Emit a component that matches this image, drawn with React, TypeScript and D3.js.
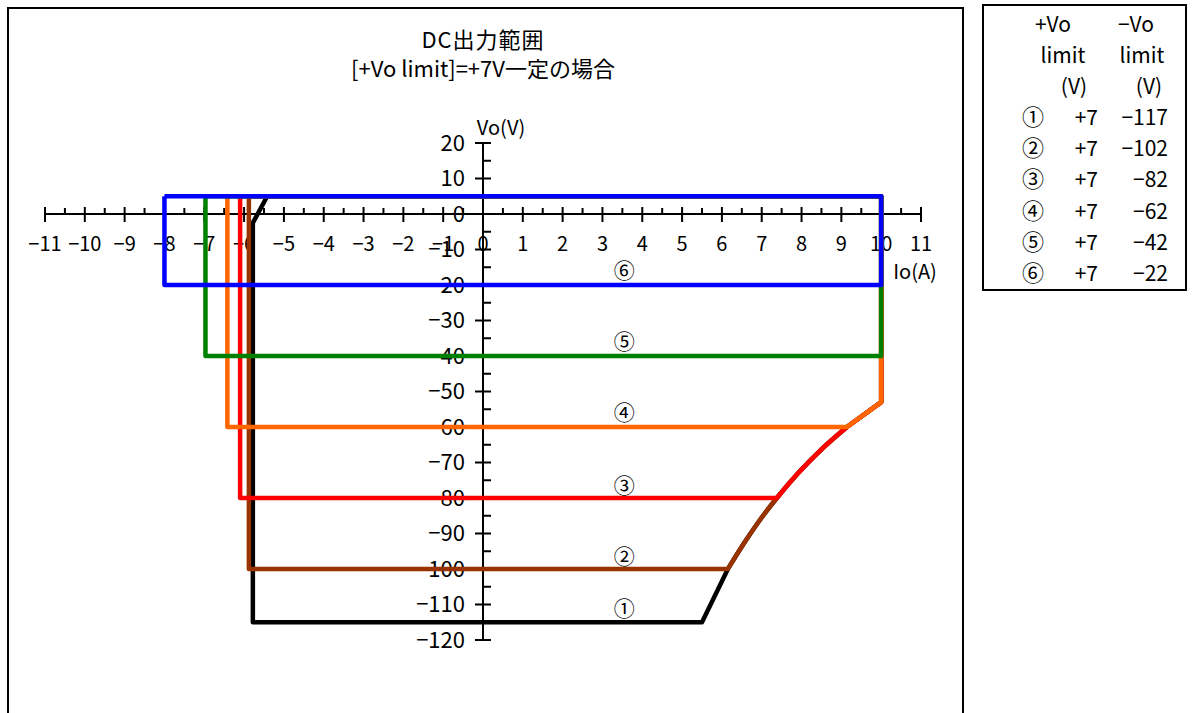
import React from 'react';
import * as d3 from 'd3';

// 共通の定電力カーブ (Io, Vo)
const powerCurve: [number, number][] = [
  [6.15, -100], [6.6, -92], [7.0, -85.5], [7.38, -80],
  [7.9, -73.2], [8.5, -66.3], [9.14, -60], [10, -53],
];
const curveEnd = 6; // ここから先は直線

const seriesNames = ['①', '②', '③', '④', '⑤', '⑥'];
const seriesColors = ['#000000', '#993300', '#ff0000', '#ff6600', '#008000', '#0000ff'];
const vTop = 5;
const leftIo = [-5.78, -5.88, -6.1, -6.42, -6.97, -8];
const bottomVo = [-115, -100, -80, -60, -40, -20];
const labelVo = [-111, -96.5, -76.5, -56, -36, -16];
const labelIo = 3.55;

const tablePlus = ['+7', '+7', '+7', '+7', '+7', '+7'];
const tableMinus = ['−117', '−102', '−82', '−62', '−42', '−22'];

const xTicks = d3.range(-11, 12);
const yTicks = d3.range(-120, 30, 10);

const FONT = '"Noto Sans CJK JP", "Noto Sans", sans-serif';

const App = () => {
  const x = d3.scaleLinear().domain([-11, 11]).range([45, 921]);
  const y = d3.scaleLinear().domain([-120, 20]).range([640, 143]);
  const line = d3.line<[number, number]>().x((d) => x(d[0])).y((d) => y(d[1]));
  const smooth = d3.line<[number, number]>().x((d) => x(d[0])).y((d) => y(d[1])).curve(d3.curveMonotoneX);
  const cont = (s: string | null) => (s ?? '').replace(/^M/, 'L');
  const x0 = x(0);
  const y0 = y(0);
  const tableRows = [24, 55, 86, 117, 148, 179, 211, 242, 273];

  const seriesPath = (i: number) => {
    const left = leftIo[i];
    const bottom = bottomVo[i];
    if (i >= 4) {
      return line([[left, vTop], [left, bottom], [10, bottom], [10, vTop], [left, vTop]]) ?? '';
    }
    let head: [number, number][];
    let start: number;
    if (i === 0) {
      head = [[-5.42, vTop], [left, -2.5], [left, bottom], [5.5, bottom]];
      start = 0;
    } else {
      start = powerCurve.findIndex((p) => p[1] >= bottom);
      head = [[left, vTop], [left, bottom]];
    }
    const topLeft = head[0];
    let d = line(head) ?? '';
    if (start < curveEnd) d += cont(smooth(powerCurve.slice(start, curveEnd + 1)));
    d += cont(line([...powerCurve.slice(Math.max(start, curveEnd)), [10, vTop], topLeft]));
    return d;
  };

  return (
    <svg width={1194} height={713} style={{ position: 'absolute', left: 0, top: 0, fontFamily: FONT }}>
      <rect x={0} y={0} width={1194} height={713} fill="#fff" />
      {/* chart frame */}
      <path d="M8,720 L8,8 L963,8 L963,720" fill="none" stroke="#000" strokeWidth={2} />
      <text x={483} y={48} textAnchor="middle" fontSize={22} letterSpacing={1}>DC出力範囲</text>
      <text x={483} y={77} textAnchor="middle" fontSize={22}>[+Vo limit]=+7V一定の場合</text>

      {/* x axis */}
      <line x1={x(-11)} x2={x(11)} y1={y0} y2={y0} stroke="#000" strokeWidth={2} />
      {xTicks.map((t) => (
        <g key={'xt' + t}>
          <line x1={x(t)} x2={x(t)} y1={y0 - 7} y2={y0 + 8} stroke="#000" strokeWidth={2} />
          {t < 11 && <line x1={x(t + 0.5)} x2={x(t + 0.5)} y1={y0 - 6} y2={y0} stroke="#000" strokeWidth={2} />}
          <text x={x(t)} y={y0 + 30} dy="0.36em" textAnchor="middle" fontSize={20}>{t < 0 ? '−' + Math.abs(t) : t}</text>
        </g>
      ))}
      <text x={915} y={272} dy="0.36em" textAnchor="middle" fontSize={20}>Io(A)</text>

      {/* y axis */}
      <line x1={x0} x2={x0} y1={y(20)} y2={y(-120)} stroke="#000" strokeWidth={2} />
      {yTicks.map((t) => (
        <g key={'yt' + t}>
          <line x1={x0 - 8} x2={x0 + 8} y1={y(t)} y2={y(t)} stroke="#000" strokeWidth={2} />
          {t > -120 && <line x1={x0} x2={x0 + 8} y1={y(t - 5)} y2={y(t - 5)} stroke="#000" strokeWidth={2} />}
          <text x={465} y={y(t)} dy="0.36em" textAnchor="end" fontSize={22}>{t < 0 ? '−' + Math.abs(t) : t}</text>
        </g>
      ))}
      <text x={501} y={128} dy="0.36em" textAnchor="middle" fontSize={20}>Vo(V)</text>

      {/* series */}
      {seriesNames.map((n, i) => (
        <path key={'s' + i} d={seriesPath(i)} fill="none" stroke={seriesColors[i]}
          strokeWidth={4.5} strokeLinejoin="round" />
      ))}
      {seriesNames.map((n, i) => (
        <text key={'l' + i} x={x(labelIo)} y={y(labelVo[i])} dy="0.36em" textAnchor="middle" fontSize={21}>{n}</text>
      ))}

      {/* table */}
      <rect x={983} y={5} width={203} height={285} fill="none" stroke="#000" strokeWidth={2} />
      <text x={1053} y={tableRows[0]} dy="0.36em" textAnchor="middle" fontSize={21}>+Vo</text>
      <text x={1136} y={tableRows[0]} dy="0.36em" textAnchor="middle" fontSize={21}>−Vo</text>
      <text x={1063} y={tableRows[1]} dy="0.36em" textAnchor="middle" fontSize={21}>limit</text>
      <text x={1142} y={tableRows[1]} dy="0.36em" textAnchor="middle" fontSize={21}>limit</text>
      <text x={1074} y={tableRows[2]} dy="0.36em" textAnchor="middle" fontSize={21}>(V)</text>
      <text x={1149} y={tableRows[2]} dy="0.36em" textAnchor="middle" fontSize={21}>(V)</text>
      {seriesNames.map((n, i) => (
        <g key={'r' + i}>
          <text x={1033} y={tableRows[i + 3]} dy="0.36em" textAnchor="middle" fontSize={22}>{n}</text>
          <text x={1098} y={tableRows[i + 3]} dy="0.36em" textAnchor="end" fontSize={21}>{tablePlus[i]}</text>
          <text x={1168} y={tableRows[i + 3]} dy="0.36em" textAnchor="end" fontSize={21}>{tableMinus[i]}</text>
        </g>
      ))}
    </svg>
  );
};

export default App;
